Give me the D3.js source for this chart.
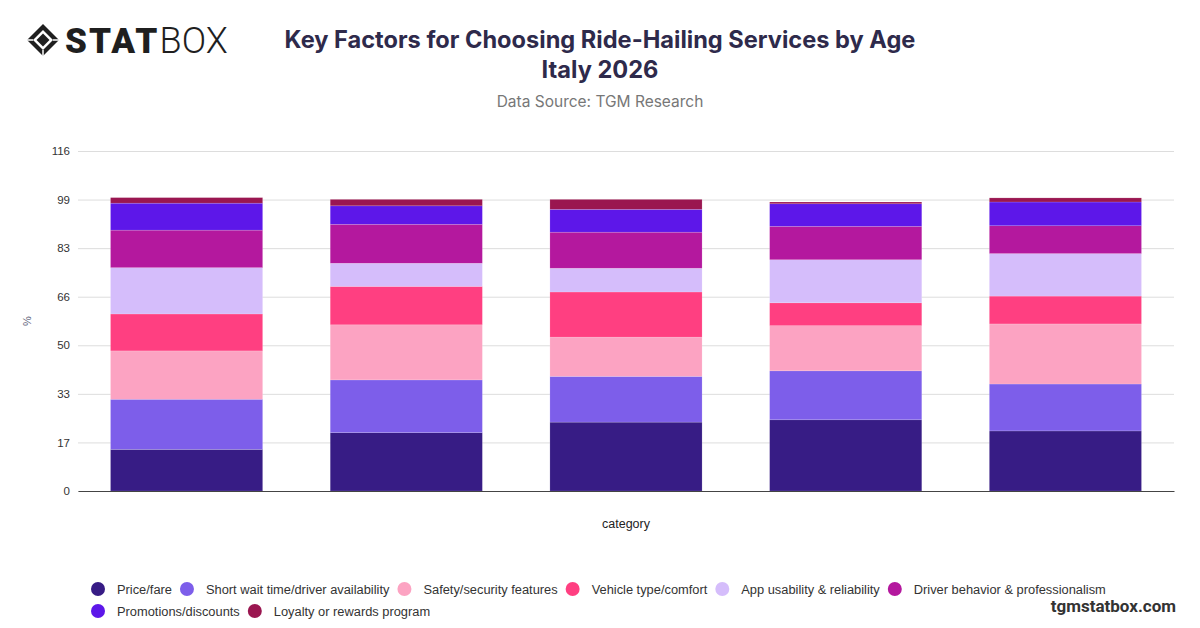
<!DOCTYPE html>
<html>
<head>
<meta charset="utf-8">
<script src="https://cdn.jsdelivr.net/npm/d3@7"></script>
<style>
  html, body { margin: 0; padding: 0; background: #fff; }
  svg { display: block; }
</style>
</head>
<body>
<svg id="chart" width="1200" height="628"></svg>
<script>
// ---------- Data ----------
const categories = ["Group 1", "Group 2", "Group 3", "Group 4", "Group 5"];
const seriesNames = [
  "Price/fare",
  "Short wait time/driver availability",
  "Safety/security features",
  "Vehicle type/comfort",
  "App usability & reliability",
  "Driver behavior & professionalism",
  "Promotions/discounts",
  "Loyalty or rewards program"
];
const priceFare      = [14.2, 19.9, 23.5, 24.3, 20.5];
const shortWait      = [17.1, 18.0, 15.6, 16.7, 16.0];
const safety         = [16.5, 18.8, 13.4, 15.4, 20.5];
const vehicle        = [12.6, 13.1, 15.4,  7.8,  9.5];
const appUsability   = [15.8,  7.9,  8.1, 14.7, 14.5];
const driverBehavior = [12.8, 13.3, 12.3, 11.4,  9.5];
const promotions     = [ 9.2,  6.3,  7.8,  7.7,  8.1];
const loyalty        = [ 1.9,  2.2,  3.4,  0.6,  1.4];
const seriesValues = [priceFare, shortWait, safety, vehicle, appUsability, driverBehavior, promotions, loyalty];
const colors = ["#371c85", "#7d5eea", "#fca3c2", "#ff3f81", "#d5bdfb", "#b4189e", "#5d17e9", "#9a1650"];
const yMax = 116;
const yTickLabels = ["0", "17", "33", "50", "66", "83", "99", "116"];

// ---------- Layout ----------
const svg = d3.select("#chart");
const plot = { left: 78, right: 1174, top: 151, bottom: 491 };

const rows = categories.map((c, i) => {
  const r = { category: c };
  seriesNames.forEach((s, k) => r[s] = seriesValues[k][i]);
  return r;
});
const stack = d3.stack().keys(seriesNames)(rows);

const x = d3.scaleBand().domain(categories).range([plot.left, plot.right])
  .paddingInner(0.3075).paddingOuter(0.148);
const y = d3.scaleLinear().domain([0, yMax]).range([plot.bottom, plot.top]);
const color = d3.scaleOrdinal().domain(seriesNames).range(colors);

// ---------- Logo ----------
const logo = svg.append("g").attr("transform", "translate(43,40)");
logo.append("path").attr("d", "M0,-16 L16,0 L0,16 L-16,0 Z").attr("fill", "#1f1f1f");
logo.append("path").attr("d", "M0,-10 L10,0 L0,10 L-10,0 Z").attr("fill", "#fff");
logo.append("path").attr("d", "M0,-6.5 L6.5,0 L0,6.5 L-6.5,0 Z").attr("fill", "#1f1f1f");
logo.append("path").attr("d", "M-16,0 L-10,0 M16,0 L10,0 M0,10 L0,16").attr("stroke", "#fff").attr("stroke-width", 1.5);
const logoText = svg.append("text").attr("x", 65).attr("y", 53)
  .attr("font-family", "Roboto, 'DejaVu Sans', sans-serif").attr("font-size", 35).attr("fill", "#1f1f1f");
logoText.append("tspan").attr("font-weight", 900).attr("letter-spacing", 2.2).text("STAT");
logoText.append("tspan").attr("font-weight", 300).attr("font-size", 36).attr("letter-spacing", 0).text("BOX");

// ---------- Title ----------
svg.append("text").attr("x", 600).attr("y", 48).attr("text-anchor", "middle")
  .attr("font-family", "Inter, Roboto, sans-serif").attr("font-weight", 700).attr("font-size", 23.6)
  .attr("fill", "#2e2a4b").text("Key Factors for Choosing Ride-Hailing Services by Age");
svg.append("text").attr("x", 600).attr("y", 78).attr("text-anchor", "middle")
  .attr("font-family", "Inter, Roboto, sans-serif").attr("font-weight", 700).attr("font-size", 23.6)
  .attr("fill", "#2e2a4b").text("Italy 2026");
svg.append("text").attr("x", 600).attr("y", 107).attr("text-anchor", "middle")
  .attr("font-family", "Inter, Roboto, sans-serif").attr("font-size", 15.5)
  .attr("fill", "#777").text("Data Source: TGM Research");

// ---------- Grid & Y axis ----------
const tickVals = yTickLabels.map((_, i) => i * yMax / (yTickLabels.length - 1));
const yAxis = d3.axisLeft(y).tickValues(tickVals)
  .tickFormat((d, i) => yTickLabels[i])
  .tickSize(-(plot.right - plot.left)).tickPadding(8);
const gy = svg.append("g").attr("transform", `translate(${plot.left},0)`).call(yAxis);
gy.select(".domain").remove();
gy.selectAll(".tick line").attr("stroke", "#dddddd").attr("stroke-width", 1);
gy.selectAll(".tick text").attr("font-family", "'Liberation Sans', Arial, sans-serif")
  .attr("font-size", 11.5).attr("fill", "#333");

svg.append("text").attr("transform", "translate(31,321) rotate(-90)").attr("text-anchor", "middle")
  .attr("font-family", "'Liberation Sans', Arial, sans-serif").attr("font-size", 11)
  .attr("fill", "#5d5f7a").text("%");

// ---------- Bars ----------
const gBars = svg.append("g");
stack.forEach(layer => {
  gBars.append("g").attr("fill", color(layer.key))
    .selectAll("rect").data(layer).join("rect")
    .attr("x", d => x(d.data.category))
    .attr("width", x.bandwidth())
    .attr("y", d => y(d[1]))
    .attr("height", d => y(d[0]) - y(d[1]))
    .attr("stroke", "rgba(255,255,255,0.25)").attr("stroke-width", 0.6);
});

// ---------- X axis ----------
const xAxis = d3.axisBottom(x).tickSize(0).tickFormat("");
const gx = svg.append("g").attr("transform", `translate(0,${plot.bottom})`).call(xAxis);
gx.select(".domain").attr("stroke", "#444").attr("stroke-width", 1.2);

svg.append("text").attr("x", (plot.left + plot.right) / 2).attr("y", 528).attr("text-anchor", "middle")
  .attr("font-family", "'Liberation Sans', Arial, sans-serif").attr("font-size", 12.5)
  .attr("fill", "#222").text("category");

// ---------- Legend ----------
const legend = svg.append("g");
let lx = 98, ly = 589;
const maxX = 1130;
seriesNames.forEach((name, i) => {
  const g = legend.append("g");
  const t = g.append("text").attr("y", 4.5)
    .attr("font-family", "'Liberation Sans', Arial, sans-serif").attr("font-size", 12.85)
    .attr("fill", "#333").text(name);
  const w = t.node().getComputedTextLength();
  if (lx + 19 + w > maxX) { lx = 98; ly += 22; }
  g.attr("transform", `translate(${lx},${ly})`);
  g.insert("circle", "text").attr("r", 7).attr("fill", colors[i]);
  t.attr("x", 19);
  lx += 19 + w + 15;
});

// ---------- Footer ----------
svg.append("text").attr("x", 1176).attr("y", 612).attr("text-anchor", "end")
  .attr("font-family", "Roboto, 'Liberation Sans', sans-serif").attr("font-weight", 700).attr("font-size", 17)
  .attr("fill", "#333").text("tgmstatbox.com");
</script>
</body>
</html>
